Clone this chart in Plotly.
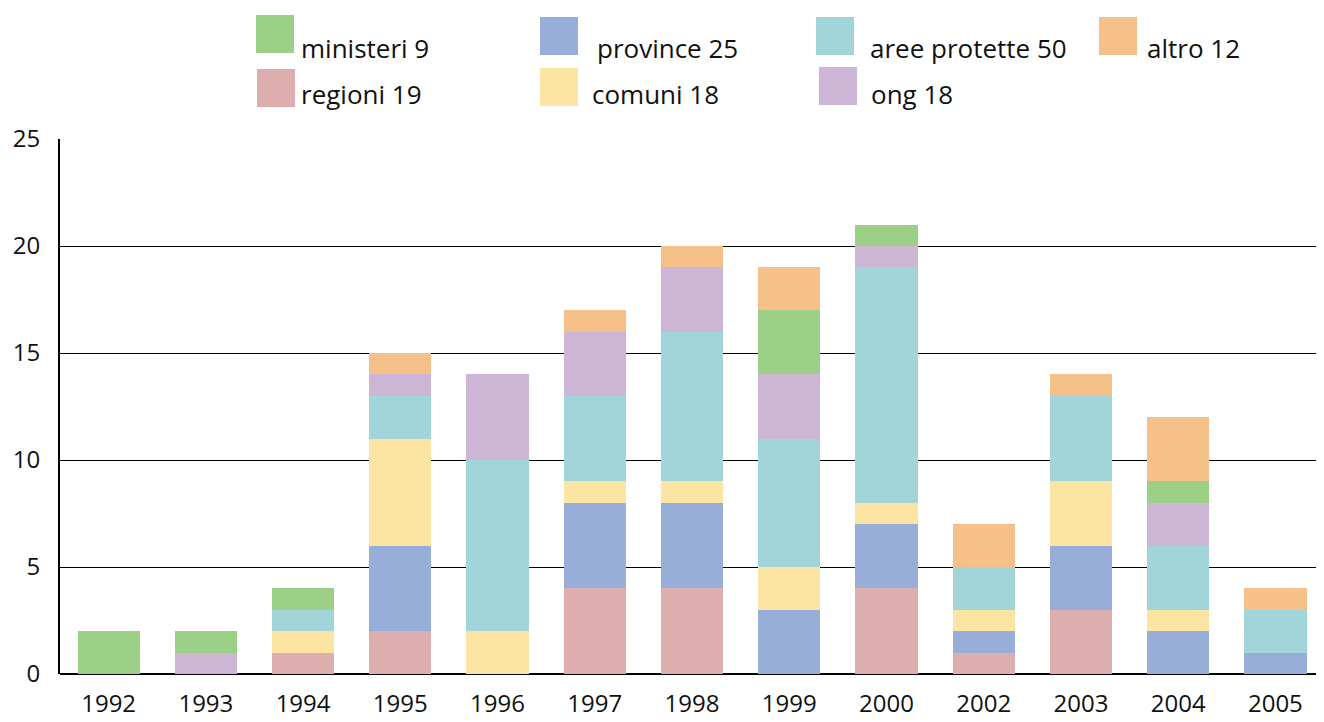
import plotly.graph_objects as go

years = ["1992", "1993", "1994", "1995", "1996", "1997", "1998", "1999", "2000", "2002", "2003", "2004", "2005"]

regioni = [0, 0, 1, 2, 0, 4, 4, 0, 4, 1, 3, 0, 0]
province = [0, 0, 0, 4, 0, 4, 4, 3, 3, 1, 3, 2, 1]
comuni = [0, 0, 1, 5, 2, 1, 1, 2, 1, 1, 3, 1, 0]
aree_protette = [0, 0, 1, 2, 8, 4, 7, 6, 11, 2, 4, 3, 2]
ong = [0, 1, 0, 1, 4, 3, 3, 3, 1, 0, 0, 2, 0]
ministeri = [2, 1, 1, 0, 0, 0, 0, 3, 1, 0, 0, 1, 0]
altro = [0, 0, 0, 1, 0, 1, 1, 2, 0, 2, 1, 3, 1]

# stacking order, bottom to top
series = [
    ("regioni 19", regioni, "#DEADAD"),
    ("province 25", province, "#97AED8"),
    ("comuni 18", comuni, "#FCE5A2"),
    ("aree protette 50", aree_protette, "#A1D5DA"),
    ("ong 18", ong, "#CDB5D5"),
    ("ministeri 9", ministeri, "#9DD087"),
    ("altro 12", altro, "#F6C089"),
]

FONT = "Open Sans"
# the page body has an 8px margin: target screen positions are offset by it
OFF = 8
W, H = 1324 - OFF, 722 - OFF
ML, MR, MT, MB = 60 - OFF, 0, 139 - OFF, 722 - 674
PW, PH = W - ML - MR, H - MT - MB

fig = go.Figure()
for name, vals, col in series:
    fig.add_trace(go.Bar(x=years, y=vals, name=name, marker=dict(color=col, line=dict(width=0)),
                         showlegend=False))

# custom legend (screen px): square-left, square-top, text-left, text-centre
legend_layout = {
    "ministeri 9": (256, 15, 299, 48),
    "province 25": (540, 17, 595, 48),
    "aree protette 50": (816, 17, 868, 48),
    "altro 12": (1099, 17, 1145, 48),
    "regioni 19": (257, 69, 299, 94),
    "comuni 18": (540, 68, 590, 94),
    "ong 18": (819, 67, 869, 94),
}
colors = {n: c for n, _, c in series}


def px_x(px):
    return (px - OFF - ML) / PW


def px_y(py):
    return (H - MB - (py - OFF)) / PH


shapes = []
annotations = []
for name, (sx, sy, tx, ty) in legend_layout.items():
    shapes.append(dict(type="rect", xref="paper", yref="paper",
                       x0=px_x(sx), x1=px_x(sx + 38), y0=px_y(sy + 38), y1=px_y(sy),
                       fillcolor=colors[name], line=dict(width=0)))
    annotations.append(dict(xref="paper", yref="paper", x=px_x(tx), y=px_y(ty),
                            xanchor="left", yanchor="middle", text=name, showarrow=False,
                            font=dict(family=FONT, size=26, color="#111")))

fig.update_layout(
    barmode="stack",
    bargap=0.36,
    width=W, height=H,
    margin=dict(l=ML, r=MR, t=MT, b=MB, pad=0),
    plot_bgcolor="white",
    paper_bgcolor="white",
    font=dict(family=FONT, size=24, color="#111"),
    shapes=shapes,
    annotations=annotations,
    xaxis=dict(type="category", showgrid=False, showline=False, ticks="outside", ticklen=8,
               tickcolor="rgba(0,0,0,0)", tickfont=dict(size=24), automargin=False),
    yaxis=dict(range=[0, 25], tickvals=[0, 5, 10, 15, 20, 25], showgrid=True, gridcolor="black",
               gridwidth=1.4, zeroline=True, zerolinecolor="black", zerolinewidth=2,
               showline=True, linecolor="black", linewidth=2, ticks="outside", ticklen=13,
               tickcolor="rgba(0,0,0,0)", tickfont=dict(size=24), automargin=False),
)

fig.write_html("out.html")
